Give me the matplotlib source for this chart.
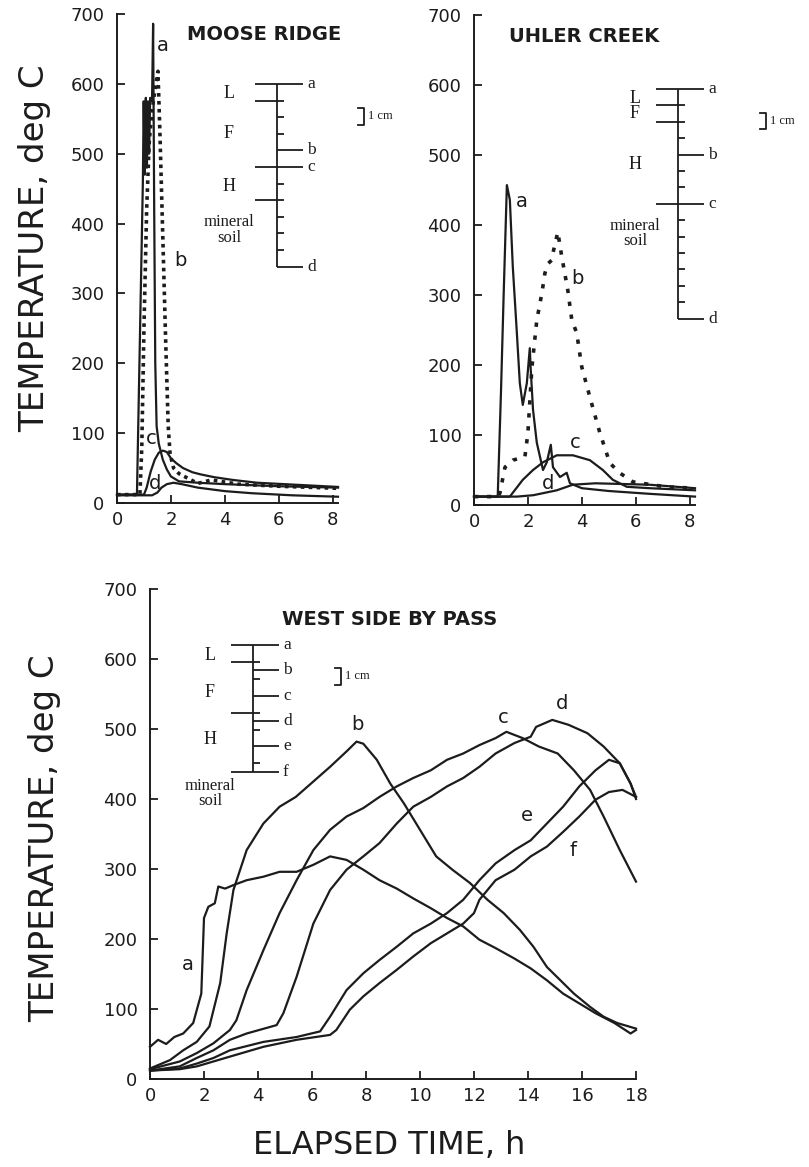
import matplotlib
matplotlib.use("Agg")
import matplotlib.pyplot as plt
import matplotlib.transforms as mtransforms
from matplotlib.lines import Line2D

INK = "#1c1c1c"
W, H = 809, 1167

# ---- Moose Ridge (thermocouples a-d) ----
moose_a_t = [0, 0.74, 0.96, 0.99, 1.03, 1.07, 1.11, 1.15, 1.19, 1.23, 1.3, 1.34, 1.38, 1.42,
             1.47, 1.55, 1.7, 1.85, 2.0, 2.3, 3.0, 4.0, 6.0, 8.2]
moose_a_T = [12, 12, 460, 575, 470, 580, 480, 575, 500, 580, 575, 686, 420, 200,
             110, 85, 62, 48, 38, 31, 29, 27, 24, 22]
moose_b_t = [0, 0.85, 0.92, 1.0, 1.1, 1.2, 1.3, 1.4, 1.52, 1.6, 1.7, 1.8, 1.9, 1.97, 2.1,
             2.3, 3.0, 3.5, 4.5, 6.0, 8.2]
moose_b_T = [12, 12, 80, 250, 420, 520, 560, 590, 618, 520, 380, 240, 110, 70, 50,
             42, 28, 33, 27, 24, 21]
moose_c_t = [0, 1.0, 1.1, 1.25, 1.4, 1.55, 1.7, 1.85, 2.0, 2.2, 2.45, 2.8, 3.1, 3.6, 4.3,
             5.2, 6.2, 8.2]
moose_c_T = [12, 12, 22, 45, 62, 72, 75, 73, 64, 57, 50, 44, 41, 37, 33, 29, 27, 23]
moose_d_t = [0, 1.3, 1.5, 1.65, 1.85, 2.1, 2.4, 3.0, 4.0, 5.0, 6.5, 8.2]
moose_d_T = [11, 11, 15, 22, 27, 29, 27, 22, 17, 14, 11, 9]

# ---- Uhler Creek ----
uhler_a_t = [0, 0.88, 1.0, 1.1, 1.22, 1.33, 1.44, 1.59, 1.7, 1.81, 1.96, 2.07, 2.1, 2.19,
             2.33, 2.56, 2.7, 2.85, 2.93, 3.19, 3.44, 3.56, 4.0, 5.0, 6.5, 8.2]
uhler_a_T = [12, 12, 160, 300, 457, 436, 340, 246, 174, 143, 174, 224, 197, 136,
             89, 50, 61, 86, 54, 40, 46, 31, 24, 20, 16, 12]
uhler_b_t = [0, 0.9, 0.96, 1.15, 1.44, 1.89, 2.0, 2.15, 2.33, 2.52, 2.63, 2.75, 2.89, 2.93,
             3.11, 3.26, 3.48, 3.63, 3.81, 4.0, 4.3, 4.67, 5.04, 5.4, 5.9, 7.1, 8.2]
uhler_b_T = [12, 12, 17, 54, 64, 69, 103, 197, 264, 303, 331, 345, 350, 360,
             390, 354, 307, 264, 246, 197, 154, 103, 60, 46, 33, 26, 24]
uhler_c_t = [0, 1.33, 1.81, 2.19, 2.56, 3.07, 3.67, 4.3, 4.78, 5.15, 5.67, 6.52, 8.2]
uhler_c_T = [12, 12, 36, 50, 61, 71, 71, 64, 50, 36, 26, 24, 21]
uhler_d_t = [0, 1.6, 2.2, 2.7, 3.07, 3.67, 4.5, 5.5, 6.5, 8.2]
uhler_d_T = [12, 12, 14, 18, 21, 29, 31, 30, 29, 24]

# ---- West Side By Pass (thermocouples a-f) ----
west_a_t = [0, 0.3, 0.6, 0.9, 1.23, 1.6, 1.9, 2.0, 2.16, 2.4, 2.53, 2.78, 3.09, 3.58, 4.2,
            4.8, 5.43, 6.05, 6.67, 7.28, 7.9, 8.5, 9.14, 9.75, 10.4, 11.0, 11.6, 12.2,
            12.8, 13.5, 14.1, 14.7, 15.3, 15.9, 16.5, 17.2, 17.8, 18.0]
west_a_T = [46, 56, 50, 60, 65, 80, 122, 230, 246, 251, 275, 272, 277, 284, 289,
            296, 296, 306, 318, 313, 299, 284, 272, 258, 244, 230, 218, 199,
            187, 172, 158, 141, 122, 108, 94, 80, 65, 70]
west_b_t = [0, 0.74, 1.23, 1.73, 2.2, 2.6, 2.84, 3.09, 3.58, 4.2, 4.8, 5.4, 6.05, 6.67,
            7.28, 7.65, 7.9, 8.4, 8.9, 9.4, 10.0, 10.6, 11.2, 11.85, 12.5, 13.1, 13.7,
            14.2, 14.7, 15.2, 15.7, 16.3, 16.8, 17.3, 18.0]
west_b_T = [15, 27, 41, 53, 75, 137, 208, 270, 327, 365, 389, 403, 425, 446,
            468, 482, 479, 456, 422, 394, 356, 318, 299, 280, 256, 237, 213,
            189, 160, 141, 122, 103, 89, 80, 72]
west_c_t = [0, 1.1, 1.73, 2.35, 2.96, 3.2, 3.58, 4.2, 4.8, 5.43, 6.05, 6.67, 7.28, 7.9,
            8.5, 9.14, 9.75, 10.4, 11.0, 11.6, 12.2, 12.8, 13.2, 13.8, 14.4, 15.1,
            15.7, 16.3, 16.8, 17.4, 18.0]
west_c_T = [14, 25, 37, 51, 70, 84, 127, 184, 237, 284, 327, 356, 375, 387,
            403, 418, 430, 441, 456, 465, 477, 487, 496, 487, 475, 465,
            441, 413, 375, 327, 282]
west_d_t = [0, 1.1, 1.73, 2.35, 2.96, 3.58, 4.69, 4.94, 5.43, 6.05, 6.67, 7.28, 7.9, 8.5,
            9.14, 9.75, 10.4, 11.0, 11.6, 12.2, 12.8, 13.5, 14.1, 14.3, 14.9, 15.5,
            16.2, 16.8, 17.4, 17.8, 18.0]
west_d_T = [12, 18, 30, 41, 56, 65, 77, 94, 146, 222, 270, 299, 318, 337,
            365, 389, 403, 418, 430, 446, 465, 480, 489, 503, 513, 506,
            494, 475, 451, 422, 403]
west_e_t = [0, 1.1, 1.73, 2.35, 2.96, 4.2, 5.43, 6.3, 6.67, 7.28, 7.9, 8.5, 9.14, 9.75,
            10.4, 11.0, 11.6, 12.2, 12.8, 13.5, 14.1, 14.7, 15.3, 15.9, 16.5, 17.0,
            17.4, 17.8, 18.0]
west_e_T = [12, 15, 22, 30, 41, 53, 60, 68, 89, 127, 151, 170, 189, 208,
            222, 237, 256, 284, 308, 327, 341, 365, 389, 418, 441, 456,
            451, 422, 400]
west_f_t = [0, 1.1, 1.73, 2.96, 4.2, 5.43, 6.67, 6.9, 7.4, 7.9, 8.5, 9.14, 9.75, 10.4,
            11.0, 11.6, 12.0, 12.2, 12.8, 13.5, 14.1, 14.7, 15.3, 15.9, 16.5, 17.0,
            17.5, 18.0]
west_f_T = [12, 14, 18, 32, 46, 56, 63, 70, 99, 118, 137, 156, 175, 194,
            208, 222, 237, 256, 284, 299, 318, 332, 353, 375, 399, 410,
            413, 403]

# thermocouple depths and horizon boundaries below the litter surface, cm
moose_probes = {"a": 0, "b": 4, "c": 5, "d": 11}
moose_bounds = [1, 5, 7]
uhler_probes = {"a": 0, "b": 4, "c": 7, "d": 14}
uhler_bounds = [1, 2, 7]
west_probes = {"a": 0, "b": 1.5, "c": 3, "d": 4.5, "e": 6, "f": 7.5}
west_bounds = [1, 4, 7.5]

plt.rcParams["font.family"] = "DejaVu Sans"
SERIF = "Liberation Serif"

fig = plt.figure(figsize=(W / 100, H / 100), dpi=100)
# pixel coordinates measured from the top-left corner of the page
PX = mtransforms.Affine2D().scale(1 / W, -1 / H).translate(0, 1) + fig.transFigure


def add_axes_px(left, bottom, width, height):
    return fig.add_axes([left / W, (H - bottom) / H, width / W, height / H])


def style_axes(ax, xmax, xticks):
    ax.set_xlim(0, xmax)
    ax.set_ylim(0, 700)
    ax.set_xticks(xticks)
    ax.set_yticks(range(0, 701, 100))
    for side in ("top", "right"):
        ax.spines[side].set_visible(False)
    for side in ("left", "bottom"):
        ax.spines[side].set_linewidth(1.4)
        ax.spines[side].set_color(INK)
    ax.tick_params(direction="in", length=6, width=1.3, colors=INK, labelsize=13)
    ax.tick_params(axis="y", pad=9)
    ax.tick_params(axis="x", pad=6)
    ax.patch.set_alpha(0)


def seg(x1, y1, x2, y2, lw=1.3):
    fig.add_artist(Line2D([x1, x2], [y1, y2], transform=PX, color=INK, lw=lw,
                          solid_capstyle="butt"))


def draw_profile(x0, y0, cm, probes, bounds, total, horizons, bar, label_x):
    """Soil profile sketch: vertical depth line, horizon boundaries, probe depths."""
    seg(x0, y0, x0, y0 + total * cm)
    depths = set(float(d) for d in range(int(total) + 1))
    depths |= set(float(d) for d in probes.values())
    depths |= set(float(d) for d in bounds)
    probe_at = {float(v): k for k, v in probes.items()}
    for d in sorted(depths):
        y = y0 + d * cm
        if d == 0 or d in bounds:
            seg(x0 - 22, y, x0, y)
        if d in probe_at:
            seg(x0, y, x0 + 26, y)
            fig.text(x0 + 30, y, probe_at[d], transform=PX, ha="left", va="center",
                     family=SERIF, fontsize=12.5, color=INK)
        else:
            seg(x0, y, x0 + 7, y)
    for name, d in horizons:
        fig.text(label_x, y0 + d * cm, name, transform=PX, ha="center", va="center",
                 family=SERIF, fontsize=13 if len(name) == 1 else 12, color=INK,
                 linespacing=0.95)
    bx, by = bar
    fig.add_artist(Line2D([bx, bx + 6, bx + 6, bx], [by, by, by + cm, by + cm],
                          transform=PX, color=INK, lw=1.3))
    fig.text(bx + 10, by + cm / 2, "1 cm", transform=PX, ha="left", va="center",
             family=SERIF, fontsize=9, color=INK)


def curve(ax, t, T, dots=None):
    if dots:
        ax.plot(t, T, color=INK, lw=2.6, linestyle=(0, dots), clip_on=False)
    else:
        ax.plot(t, T, color=INK, lw=1.6, clip_on=False)


def tag(ax, x, y, s):
    ax.text(x, y, s, ha="center", va="center", fontsize=14, color=INK)


# ---- Moose Ridge panel ----
ax1 = add_axes_px(117, 503, 221, 489)
style_axes(ax1, 8.2, [0, 2, 4, 6, 8])
curve(ax1, moose_a_t, moose_a_T)
curve(ax1, moose_b_t, moose_b_T, dots=(1.0, 1.2))
curve(ax1, moose_c_t, moose_c_T)
curve(ax1, moose_d_t, moose_d_T)
tag(ax1, 1.7, 655, "a")
tag(ax1, 2.35, 347, "b")
tag(ax1, 1.26, 93, "c")
tag(ax1, 1.41, 28, "d")
ax1.text(2.6, 671, "MOOSE RIDGE", fontsize=14, fontweight="bold", color=INK,
         ha="left", va="center")
draw_profile(277, 84, 16.6, moose_probes, moose_bounds, 11,
             [("L", 0.55), ("F", 3.0), ("H", 6.2), ("mineral\nsoil", 8.8)],
             (358, 108), 229)

# ---- Uhler Creek panel ----
ax2 = add_axes_px(474, 505, 221, 490)
style_axes(ax2, 8.2, [0, 2, 4, 6, 8])
curve(ax2, uhler_a_t, uhler_a_T)
curve(ax2, uhler_b_t, uhler_b_T, dots=(1.2, 2.4))
curve(ax2, uhler_c_t, uhler_c_T)
curve(ax2, uhler_d_t, uhler_d_T)
tag(ax2, 1.78, 433, "a")
tag(ax2, 3.85, 324, "b")
tag(ax2, 3.74, 89, "c")
tag(ax2, 2.74, 31, "d")
ax2.text(1.3, 670, "UHLER CREEK", fontsize=14, fontweight="bold", color=INK,
         ha="left", va="center")
draw_profile(678, 89, 16.4, uhler_probes, uhler_bounds, 14,
             [("L", 0.55), ("F", 1.5), ("H", 4.6), ("mineral\nsoil", 8.8)],
             (760, 113), 635)

# ---- West Side By Pass panel ----
ax3 = add_axes_px(150, 1079, 486, 490)
style_axes(ax3, 18, range(0, 19, 2))
for t, T in [(west_a_t, west_a_T), (west_b_t, west_b_T), (west_c_t, west_c_T),
             (west_d_t, west_d_T), (west_e_t, west_e_T), (west_f_t, west_f_T)]:
    curve(ax3, t, T)
tag(ax3, 1.4, 163, "a")
tag(ax3, 7.7, 506, "b")
tag(ax3, 13.07, 517, "c")
tag(ax3, 15.26, 537, "d")
tag(ax3, 13.96, 377, "e")
tag(ax3, 15.67, 327, "f")
ax3.text(4.9, 656, "WEST SIDE BY PASS", fontsize=14, fontweight="bold", color=INK,
         ha="left", va="center")
draw_profile(253, 645, 16.9, west_probes, west_bounds, 7.5,
             [("L", 0.6), ("F", 2.8), ("H", 5.6), ("mineral\nsoil", 8.8)],
             (335, 668), 210)

# axis titles
fig.text(35 / W, 1 - 248 / H, "TEMPERATURE, deg C", rotation=90, ha="center",
         va="center", fontsize=24.5, color=INK)
fig.text(45 / W, 1 - 838 / H, "TEMPERATURE, deg C", rotation=90, ha="center",
         va="center", fontsize=24.5, color=INK)
fig.text(389 / W, 1 - 1146 / H, "ELAPSED TIME, h", ha="center", va="center",
         fontsize=23, color=INK)

plt.savefig("out.png", dpi=100, facecolor="white")
